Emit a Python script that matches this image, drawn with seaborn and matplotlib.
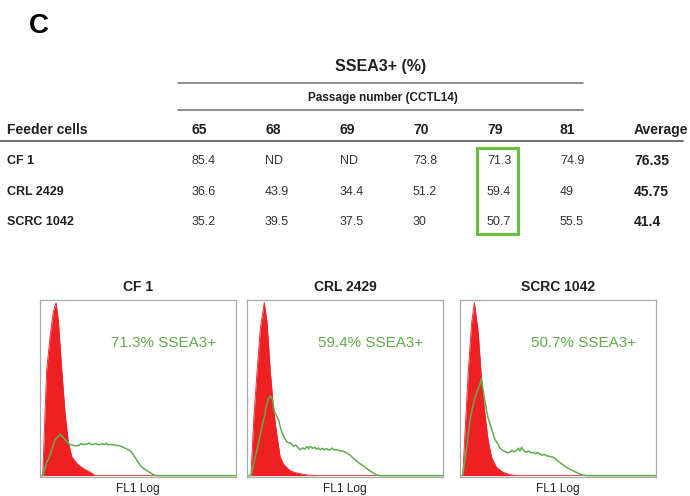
import numpy as np
import pandas as pd
import matplotlib
matplotlib.use("Agg")
import matplotlib.pyplot as plt
import seaborn as sns
from matplotlib.lines import Line2D
from matplotlib.patches import Rectangle

# ---------------- data ----------------
passages = ["65", "68", "69", "70", "79", "81"]
feeders = ["CF 1", "CRL 2429", "SCRC 1042"]
cf1_vals = [85.4, np.nan, np.nan, 73.8, 71.3, 74.9]
crl_vals = [36.6, 43.9, 34.4, 51.2, 59.4, 49]
scrc_vals = [35.2, 39.5, 37.5, 30, 50.7, 55.5]
averages = [76.35, 45.75, 41.4]
highlight_passage = "79"

# histogram traces (x: 0-100 log channel units, y: % of max)
cf1_neg_x = [0, 1.4, 2.6, 3.4, 5.1, 6.8, 8.2, 9.4, 11.1, 12.8, 14.5, 16.2, 18.8, 22.2, 25.6, 28.2, 100]
cf1_neg_y = [0, 0, 38, 61, 80, 95, 100, 89, 61, 36, 19, 11, 7, 4, 2, 0, 0]
cf1_pos_x = [0, 1.4, 2.5, 3.4, 4.5, 6.0, 7.0, 7.7, 8.8, 9.6, 10.3, 11.0, 12.0, 13.0, 13.7, 14.5, 15.4,
             16.5, 17.5, 18.8, 20.0, 21.0, 22.0, 23.0, 23.9, 25.0, 26.0, 27.4, 28.5, 29.5, 30.8, 32.0,
             33.0, 34.0, 35.0, 35.9, 37.0, 38.5, 40.0, 41.0, 42.5, 44.0, 45.0, 46.2, 47.0, 47.9, 48.8,
             49.6, 50.5, 51.3, 53.0, 54.7, 56.5, 58.1, 59.8, 100]
cf1_pos_y = [0, 0, 4, 7.6, 10, 15.2, 18.5, 20.9, 22, 23, 23.9, 23, 21.8, 20.5, 19.9, 18.6, 18.0,
             17.6, 17.4, 17.1, 17.6, 18.6, 17.8, 18.3, 18.0, 18.9, 18.1, 18.0, 18.6, 17.9, 18.0, 18.4,
             18.0, 18.6, 17.7, 18.0, 17.9, 17.5, 17.4, 17.1, 16.4, 15.5, 14.9, 14.2, 13.0, 11.4, 10.2,
             8.5, 7.0, 5.7, 4.0, 2.8, 1.5, 0.4, 0, 0]

crl_neg_x = [0, 2.0, 3.4, 5.1, 6.8, 8.8, 10.2, 11.9, 13.6, 15.3, 16.9, 18.6, 22.0, 25.4, 30.5, 35.6, 100]
crl_neg_y = [0, 0, 32, 60, 85, 100, 89, 60, 38, 23, 11, 6.6, 2.8, 1.5, 0.4, 0, 0]
crl_pos_x = [0, 2.0, 3.5, 5.1, 6.3, 7.6, 9.0, 10.2, 11.0, 11.9, 12.6, 13.2, 13.8, 14.4, 15.2, 16.1,
             17.0, 17.8, 18.6, 19.5, 20.3, 21.2, 22.4, 23.7, 25.0, 26.0, 27.1, 28.5, 29.5, 30.5, 31.4,
             32.2, 33.5, 34.5, 35.5, 36.3, 37.3, 38.5, 39.5, 40.5, 41.5, 42.4, 43.5, 44.6, 45.8, 47.0,
             48.2, 49.2, 50.5, 51.5, 52.5, 54.0, 55.9, 57.5, 59.3, 61.0, 62.7, 64.5, 66.1, 67.8, 100]
crl_pos_y = [0, 0, 7, 15, 21, 28, 35, 42, 44.5, 46, 45, 43, 38, 36, 34.5, 32,
             28, 25, 23, 21, 19.5, 19, 18.6, 17, 17.6, 16.2, 15, 16, 15.3, 16.8, 15.6,
             17, 15.8, 16.4, 15.2, 16, 15, 15.8, 14.9, 15.6, 14.8, 15, 15.9, 14.8, 15, 14.6,
             14.2, 14, 13.5, 12.6, 12, 10.3, 8.5, 7, 5.7, 4.2, 2.8, 1.4, 0.4, 0, 0]

scrc_neg_x = [0, 1.4, 2.5, 4.2, 5.9, 7.3, 9.3, 11.0, 12.7, 14.4, 16.1, 18.6, 22.0, 25.4, 28.8, 100]
scrc_neg_y = [0, 0, 24, 60, 88, 100, 83, 55, 36, 20, 10.6, 4.8, 1.9, 0.6, 0, 0]
scrc_pos_x = [0, 1.4, 2.4, 3.4, 4.2, 5.1, 6.3, 7.6, 8.9, 10.2, 10.6, 11.0, 11.4, 11.9, 12.3, 12.7,
              13.2, 13.6, 14.4, 15.3, 16.1, 16.9, 17.8, 18.6, 19.5, 20.3, 21.1, 22.0, 23.0, 24.2,
              25.4, 26.5, 27.5, 28.8, 29.8, 30.6, 31.4, 32.2, 33.0, 33.9, 35.0, 36.2, 37.3, 38.5,
              39.6, 40.7, 42.0, 43.0, 44.1, 45.5, 46.5, 47.5, 48.5, 49.5, 50.8, 52.5, 54.2, 55.8,
              57.6, 59.3, 61.0, 62.7, 64.4, 100]
scrc_pos_y = [0, 0, 8, 16, 24, 32, 39, 45, 49, 53, 55, 56, 52, 49, 46, 43,
              40, 37, 33, 30, 27, 24, 21, 19.5, 18, 16, 15.2, 14.4, 14, 13.2,
              13.5, 14.6, 13.8, 14.4, 15.8, 14.2, 16.3, 14.8, 13.9, 13.5, 14.2, 13.2, 13.5, 12.6,
              13.4, 12.5, 11.8, 12.3, 11.5, 11.2, 10.9, 10.6, 9.8, 8.9, 7.7, 6.3, 4.8, 3.8,
              2.9, 1.9, 1.0, 0.3, 0, 0]

# ---------------- style ----------------
sns.set_theme(style="white")
plt.rcParams["font.family"] = ["Liberation Sans", "DejaVu Sans"]

W, H = 690, 496
fig = plt.figure(figsize=(W / 100, H / 100), dpi=100)
fig.patch.set_facecolor("white")

GREEN = "#5fae4c"
RED = "#ee2024"
DARK = "#231f20"
LINE = "#7a7a7a"


def fx(x):
    return x / W


def fy(y):
    return 1 - y / H


def ftext(x, y, s, **kw):
    kw.setdefault("color", DARK)
    kw.setdefault("va", "center")
    fig.text(fx(x), fy(y), s, **kw)


def hline(x0, x1, y, color=LINE, lw=1.2):
    fig.add_artist(Line2D([fx(x0), fx(x1)], [fy(y), fy(y)], transform=fig.transFigure,
                          color=color, lw=lw))


# panel letter
ftext(29, 26, "C", fontsize=20, fontweight="bold", color="black")

# table header
ftext(381, 67, "SSEA3+ (%)", fontsize=11.5, fontweight="bold", ha="center")
hline(178, 583, 83)
ftext(383, 98, "Passage number (CCTL14)", fontsize=8.5, fontweight="bold", ha="center")
hline(178, 583, 110)

col_x = [192, 265, 340, 413, 487, 560]
avg_x = 634
header_y = 130
row_y = [161, 192, 222]

ftext(7, header_y, "Feeder cells", fontsize=10, fontweight="bold")
for cx, p in zip(col_x, passages):
    ftext(cx, header_y, p, fontsize=10, fontweight="bold")
ftext(avg_x, header_y, "Average", fontsize=10, fontweight="bold")
hline(0, 683, 141, color="#6e6e6e", lw=1.4)

rows = [cf1_vals, crl_vals, scrc_vals]
for ry, name, vals, avg in zip(row_y, feeders, rows, averages):
    ftext(7, ry, name, fontsize=9, fontweight="bold")
    for cx, v in zip(col_x, vals):
        s = "ND" if np.isnan(v) else f"{v:g}"
        ftext(cx, ry, s, fontsize=9, color="#333333")
    ftext(avg_x, ry, f"{avg:g}", fontsize=10, fontweight="bold")

# highlight box
hi = passages.index(highlight_passage)
fig.add_artist(Rectangle((fx(477), fy(234)), fx(518) - fx(477), fy(148) - fy(234),
                         transform=fig.transFigure, fill=False, edgecolor="#6abf45", lw=2.2))

# ---------------- histograms ----------------
panels = [
    ("CF 1", cf1_neg_x, cf1_neg_y, cf1_pos_x, cf1_pos_y, cf1_vals[hi], 40),
    ("CRL 2429", crl_neg_x, crl_neg_y, crl_pos_x, crl_pos_y, crl_vals[hi], 247),
    ("SCRC 1042", scrc_neg_x, scrc_neg_y, scrc_pos_x, scrc_pos_y, scrc_vals[hi], 460),
]
ax_top, ax_bot, ax_w = 300, 477, 196

for title, nx, ny, px_, py_, pct, left in panels:
    ax = fig.add_axes([fx(left), fy(ax_bot), ax_w / W, (ax_bot - ax_top) / H])
    neg = pd.DataFrame({"x": nx, "y": ny})
    pos = pd.DataFrame({"x": px_, "y": py_})
    ax.fill_between(neg["x"], neg["y"], 0, color=RED, lw=0)
    sns.lineplot(data=neg, x="x", y="y", ax=ax, color=RED, lw=0.6, sort=False)
    sns.lineplot(data=pos, x="x", y="y", ax=ax, color=GREEN, lw=1.1, sort=False)
    ax.set_xlim(0, 100)
    ax.set_ylim(-0.8, 101.5)
    ax.set_xlabel("")
    ax.set_ylabel("")
    ax.set_xticks([])
    ax.set_yticks(np.arange(10, 100, 10))
    ax.tick_params(axis="y", direction="in", length=2, color="#cfcfcf", labelleft=False, width=0.6)
    for sp in ax.spines.values():
        sp.set_color("#a8a8a8")
        sp.set_linewidth(0.9)
    ax.set_facecolor("white")
    ax.text(0.36, 0.755, f"{pct:g}% SSEA3+", transform=ax.transAxes, color=GREEN,
            fontsize=11, va="center", ha="left")
    ftext(left + ax_w / 2, 287, title, fontsize=10, fontweight="bold", ha="center")
    ftext(left + ax_w / 2, 489, "FL1 Log", fontsize=8.6, ha="center")

fig.savefig("out.png", dpi=100, facecolor="white")
